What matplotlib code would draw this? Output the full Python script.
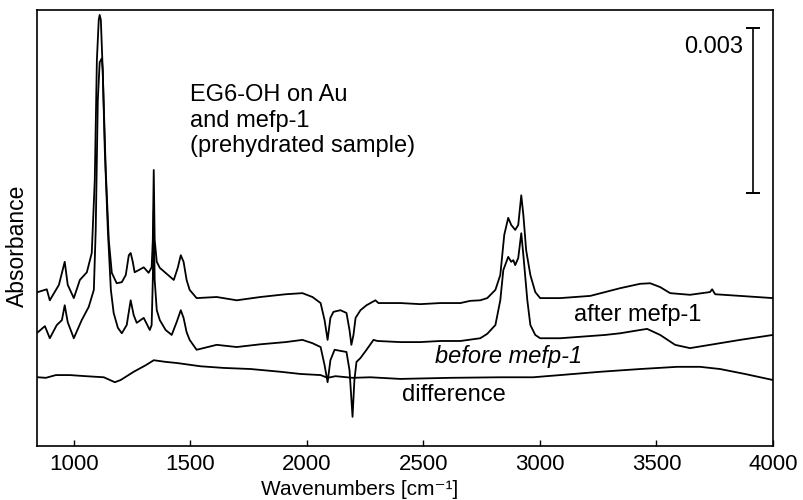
import matplotlib
matplotlib.use("Agg")
import matplotlib.pyplot as plt

plt.rcParams['font.family'] = ['Liberation Sans', 'DejaVu Sans']

# spectra, absorbance in units of 1e-3 (offsets included)
wn_after = [846, 884, 897, 936, 961, 974, 1000, 1026, 1056, 1077, 1090, 1099, 1107, 1111, 1116,
            1124, 1137, 1150, 1163, 1184, 1206, 1223, 1236, 1244, 1253, 1261, 1279, 1300, 1321,
            1334, 1339, 1343, 1347, 1356, 1369, 1399, 1429, 1446, 1459, 1471, 1484, 1497, 1527,
            1613, 1699, 1801, 1909, 1981, 2024, 2059, 2076, 2089, 2101, 2114, 2144, 2170, 2183,
            2191, 2200, 2209, 2230, 2256, 2294, 2307, 2401, 2487, 2573, 2659, 2701, 2744, 2774,
            2809, 2830, 2847, 2864, 2877, 2894, 2907, 2920, 2929, 2941, 2959, 2980, 3001, 3087,
            3216, 3344, 3430, 3473, 3516, 3559, 3644, 3730, 3739, 3752, 3859, 4000]
abs_after = [2.80, 2.85, 2.65, 2.93, 3.35, 2.93, 2.69, 3.02, 3.16, 3.51, 4.84, 7.02, 7.75, 7.84, 7.75,
             6.84, 5.02, 3.75, 3.15, 2.96, 2.98, 3.11, 3.47, 3.51, 3.35, 3.16, 3.20, 3.25, 3.15,
             3.25, 3.75, 5.02, 3.75, 3.35, 3.24, 3.13, 3.02, 3.24, 3.47, 3.35, 3.02, 2.84, 2.69,
             2.71, 2.65, 2.71, 2.76, 2.78, 2.71, 2.60, 2.29, 1.93, 2.33, 2.44, 2.47, 2.42, 2.11,
             1.84, 2.02, 2.33, 2.47, 2.56, 2.65, 2.60, 2.60, 2.58, 2.60, 2.60, 2.64, 2.65, 2.69,
             2.84, 3.11, 3.84, 4.15, 4.02, 3.93, 4.02, 4.56, 4.20, 3.56, 3.11, 2.80, 2.69, 2.69,
             2.73, 2.87, 2.95, 2.96, 2.89, 2.78, 2.75, 2.80, 2.85, 2.76, 2.73, 2.69]

wn_before = [846, 876, 897, 927, 949, 961, 974, 1000, 1034, 1064, 1086, 1094, 1103, 1111, 1120,
             1124, 1133, 1146, 1159, 1171, 1189, 1206, 1227, 1244, 1257, 1270, 1300, 1326, 1334,
             1339, 1343, 1347, 1356, 1369, 1394, 1420, 1441, 1459, 1471, 1484, 1497, 1527, 1613,
             1699, 1801, 1909, 1981, 2024, 2059, 2076, 2089, 2101, 2119, 2170, 2183, 2196, 2204,
             2213, 2230, 2256, 2286, 2303, 2401, 2487, 2573, 2659, 2744, 2774, 2809, 2830, 2843,
             2864, 2877, 2886, 2894, 2907, 2920, 2929, 2946, 2959, 2980, 3001, 3087, 3216, 3280,
             3344, 3430, 3460, 3516, 3580, 3644, 3730, 3859, 4000]
abs_before = [2.07, 2.18, 1.96, 2.20, 2.29, 2.56, 2.25, 1.96, 2.29, 2.53, 2.84, 3.93, 6.29, 6.98, 7.05,
              6.84, 5.38, 3.93, 2.84, 2.42, 2.15, 2.05, 2.20, 2.65, 2.38, 2.24, 2.33, 2.11, 2.20,
              3.02, 4.29, 3.02, 2.47, 2.29, 2.11, 2.02, 2.25, 2.47, 2.33, 2.07, 1.93, 1.75, 1.84,
              1.80, 1.85, 1.89, 1.93, 1.87, 1.80, 1.47, 1.16, 1.56, 1.75, 1.71, 1.38, 0.53, 1.20,
              1.53, 1.60, 1.75, 1.93, 1.91, 1.89, 1.89, 1.91, 1.91, 1.96, 2.04, 2.20, 2.65, 3.20,
              3.44, 3.35, 3.38, 3.29, 3.42, 3.87, 3.47, 2.65, 2.20, 2.02, 1.96, 1.96, 2.00, 2.02,
              2.05, 2.11, 2.13, 2.02, 1.84, 1.78, 1.84, 1.93, 2.02]

wn_diff = [846, 880, 923, 983, 1051, 1129, 1176, 1201, 1257, 1309, 1343, 1394, 1441, 1544, 1643,
           1759, 1887, 1973, 2059, 2089, 2123, 2196, 2273, 2401, 2616, 2830, 2971, 3087, 3259,
           3430, 3589, 3687, 3773, 3880, 4000]
abs_diff = [1.25, 1.24, 1.29, 1.29, 1.27, 1.25, 1.16, 1.20, 1.35, 1.47, 1.56, 1.53, 1.51, 1.45, 1.42,
            1.40, 1.35, 1.31, 1.29, 1.24, 1.27, 1.24, 1.25, 1.22, 1.24, 1.25, 1.25, 1.29, 1.35,
            1.40, 1.44, 1.44, 1.40, 1.31, 1.20]

# scale bar: 0.003 absorbance
bar_wn = 3914
bar_lo, bar_hi = 4.60, 7.60

xticks = [1000, 1500, 2000, 2500, 3000, 3500, 4000]

fig = plt.figure(figsize=(8.04, 5.0), dpi=100)
ax = fig.add_axes([0.046, 0.108, 0.9154, 0.872])

for wn, a in [(wn_after, abs_after), (wn_before, abs_before), (wn_diff, abs_diff)]:
    ax.plot(wn, a, color='black', lw=1.3)

ax.plot([bar_wn, bar_wn], [bar_lo, bar_hi], color='black', lw=1.2)
ax.plot([bar_wn, bar_wn], [bar_lo, bar_hi], ls='none', marker='_', ms=10, mew=1.4, color='black')
ax.text(3871, 7.25, '0.003', ha='right', va='center', fontsize=17)

ax.text(0.208, 0.83, 'EG6-OH on Au\nand mefp-1\n(prehydrated sample)',
        transform=ax.transAxes, ha='left', va='top', fontsize=17)
ax.text(3421, 2.38, 'after mefp-1', ha='center', va='center', fontsize=17)
ax.text(2864, 1.62, 'before mefp-1', ha='center', va='center', fontsize=17, style='italic')
ax.text(2410, 0.93, 'difference', ha='left', va='center', fontsize=17)

ax.set_xlim(842, 4000)
ax.set_ylim(0, 7.93)
ax.set_xticks(xticks)
ax.set_yticks([])
ax.tick_params(axis='x', direction='in', length=4, width=1, labelsize=16, pad=6)
for s in ax.spines.values():
    s.set_linewidth(1.2)

fig.text(360 / 804, 0.002, 'Wavenumbers [cm\u207b\u00b9]', ha='center', va='bottom', fontsize=15)
ax.set_ylabel('Absorbance', fontsize=16.5)
ax.yaxis.set_label_coords(-0.011, 0.46)

fig.savefig('out.png', dpi=100)
